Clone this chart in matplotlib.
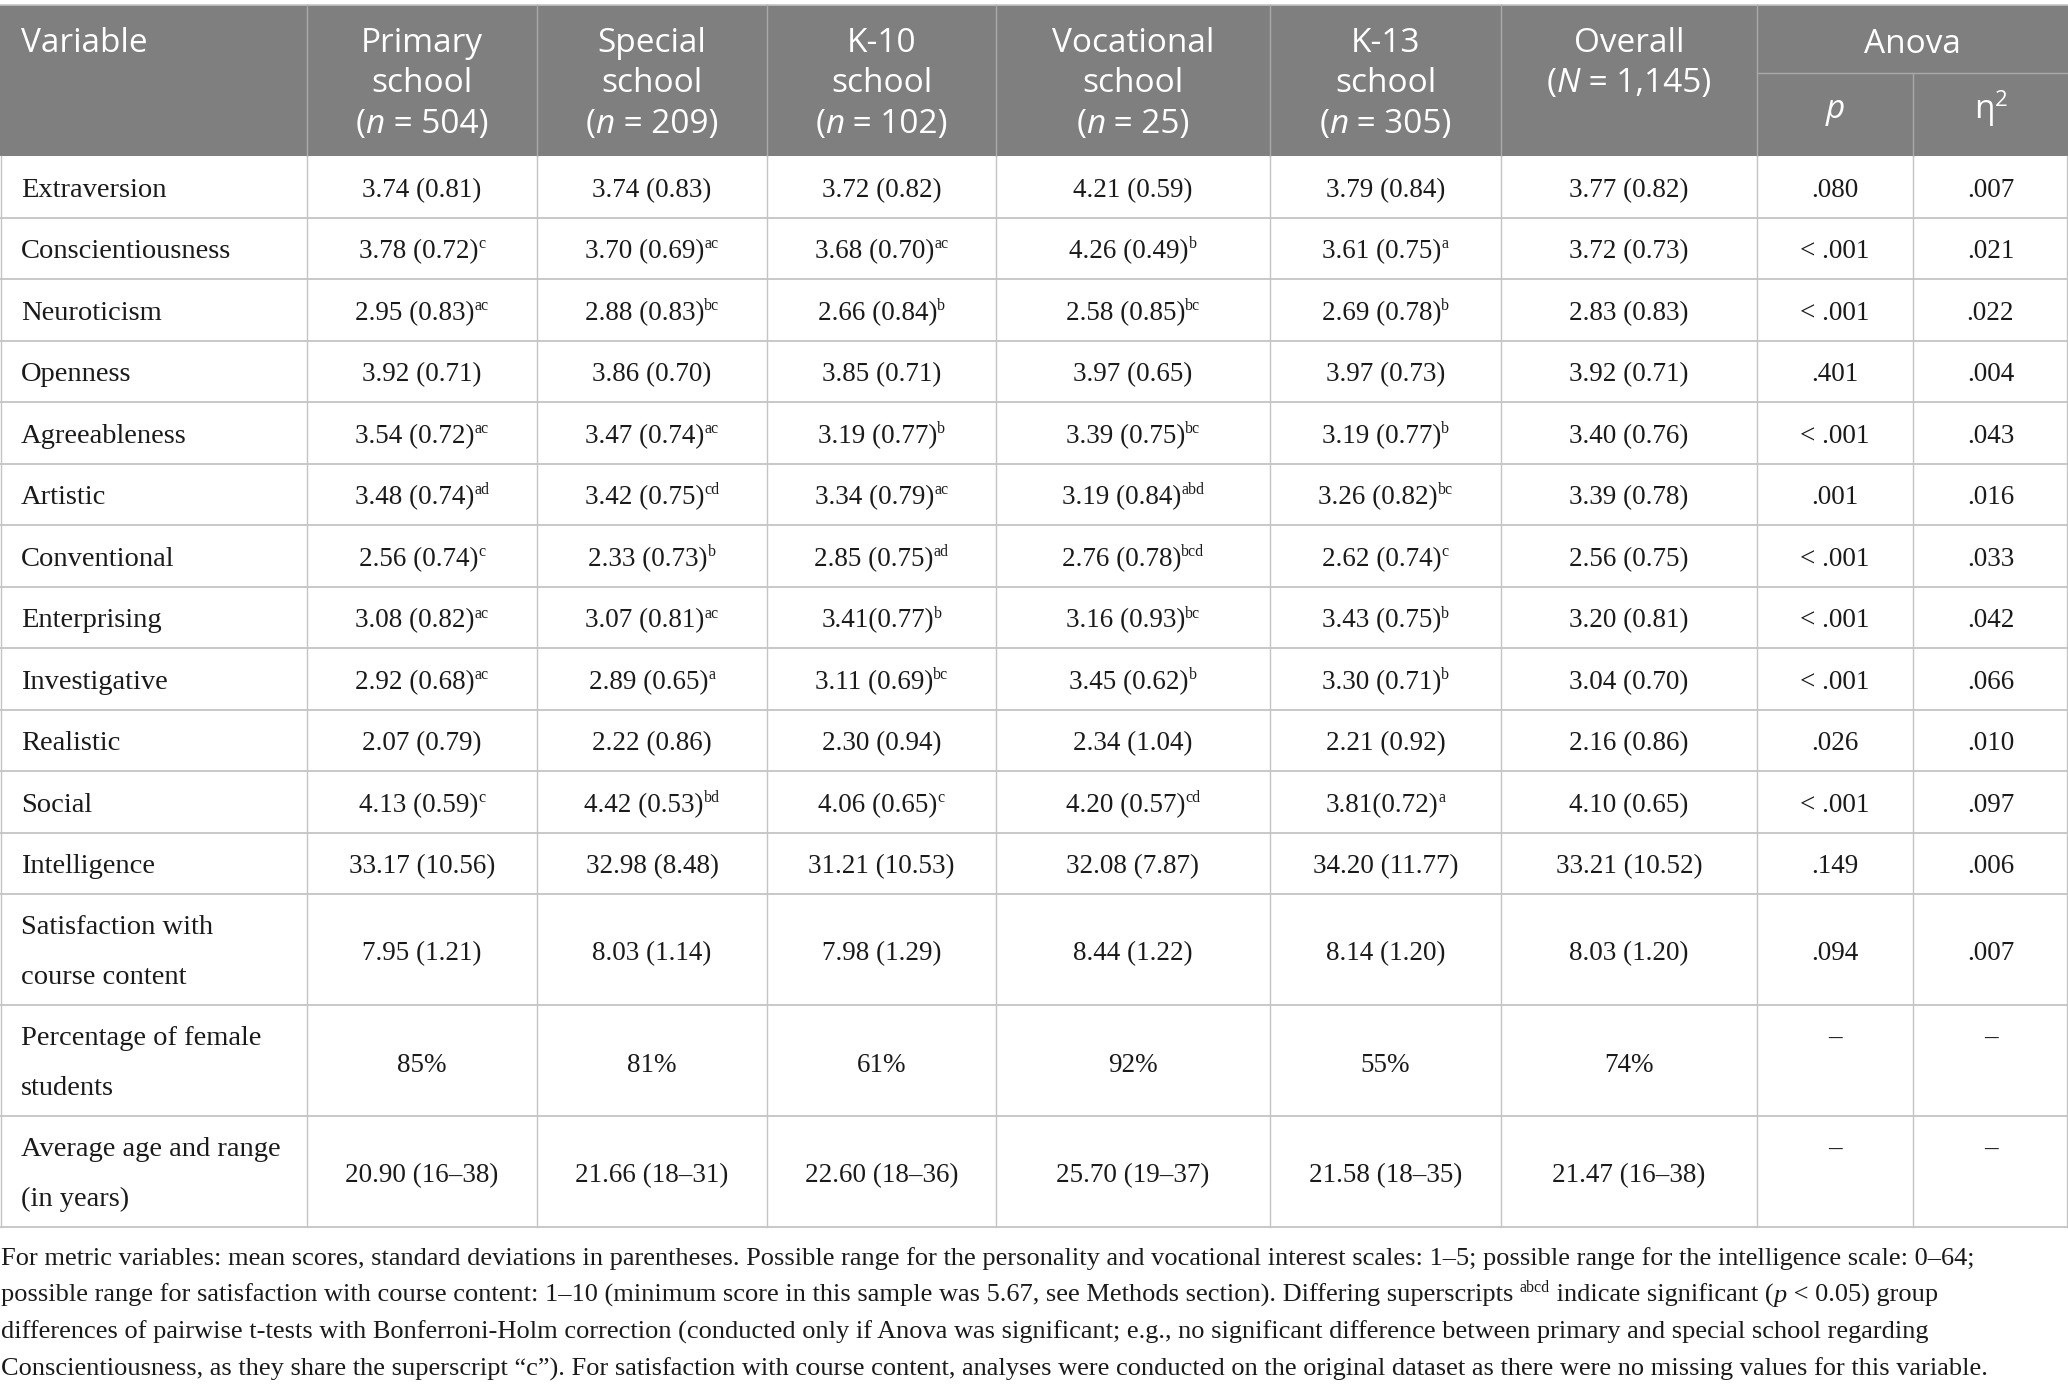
import matplotlib
matplotlib.use("Agg")
import matplotlib.pyplot as plt
from matplotlib.patches import Rectangle

# ---- table content -------------------------------------------------------
variables = ["Extraversion", "Conscientiousness", "Neuroticism", "Openness",
             "Agreeableness", "Artistic", "Conventional", "Enterprising",
             "Investigative", "Realistic", "Social", "Intelligence",
             "Satisfaction with\ncourse content", "Percentage of female\nstudents",
             "Average age and range\n(in years)"]

school_names = ["Primary\nschool", "Special\nschool", "K-10\nschool",
                "Vocational\nschool", "K-13\nschool"]
school_n = ["504", "209", "102", "25", "305"]
overall_n = "1,145"

primary = ["3.74 (0.81)", "3.78 (0.72)", "2.95 (0.83)", "3.92 (0.71)", "3.54 (0.72)",
           "3.48 (0.74)", "2.56 (0.74)", "3.08 (0.82)", "2.92 (0.68)", "2.07 (0.79)",
           "4.13 (0.59)", "33.17 (10.56)", "7.95 (1.21)", "85%", "20.90 (16–38)"]
primary_sup = ["", "c", "ac", "", "ac", "ad", "c", "ac", "ac", "", "c", "", "", "", ""]

special = ["3.74 (0.83)", "3.70 (0.69)", "2.88 (0.83)", "3.86 (0.70)", "3.47 (0.74)",
           "3.42 (0.75)", "2.33 (0.73)", "3.07 (0.81)", "2.89 (0.65)", "2.22 (0.86)",
           "4.42 (0.53)", "32.98 (8.48)", "8.03 (1.14)", "81%", "21.66 (18–31)"]
special_sup = ["", "ac", "bc", "", "ac", "cd", "b", "ac", "a", "", "bd", "", "", "", ""]

k10 = ["3.72 (0.82)", "3.68 (0.70)", "2.66 (0.84)", "3.85 (0.71)", "3.19 (0.77)",
       "3.34 (0.79)", "2.85 (0.75)", "3.41(0.77)", "3.11 (0.69)", "2.30 (0.94)",
       "4.06 (0.65)", "31.21 (10.53)", "7.98 (1.29)", "61%", "22.60 (18–36)"]
k10_sup = ["", "ac", "b", "", "b", "ac", "ad", "b", "bc", "", "c", "", "", "", ""]

vocational = ["4.21 (0.59)", "4.26 (0.49)", "2.58 (0.85)", "3.97 (0.65)", "3.39 (0.75)",
              "3.19 (0.84)", "2.76 (0.78)", "3.16 (0.93)", "3.45 (0.62)", "2.34 (1.04)",
              "4.20 (0.57)", "32.08 (7.87)", "8.44 (1.22)", "92%", "25.70 (19–37)"]
vocational_sup = ["", "b", "bc", "", "bc", "abd", "bcd", "bc", "b", "", "cd", "", "", "", ""]

k13 = ["3.79 (0.84)", "3.61 (0.75)", "2.69 (0.78)", "3.97 (0.73)", "3.19 (0.77)",
       "3.26 (0.82)", "2.62 (0.74)", "3.43 (0.75)", "3.30 (0.71)", "2.21 (0.92)",
       "3.81(0.72)", "34.20 (11.77)", "8.14 (1.20)", "55%", "21.58 (18–35)"]
k13_sup = ["", "a", "b", "", "b", "bc", "c", "b", "b", "", "a", "", "", "", ""]

overall = ["3.77 (0.82)", "3.72 (0.73)", "2.83 (0.83)", "3.92 (0.71)", "3.40 (0.76)",
           "3.39 (0.78)", "2.56 (0.75)", "3.20 (0.81)", "3.04 (0.70)", "2.16 (0.86)",
           "4.10 (0.65)", "33.21 (10.52)", "8.03 (1.20)", "74%", "21.47 (16–38)"]

anova_p = [".080", "< .001", "< .001", ".401", "< .001", ".001", "< .001", "< .001",
           "< .001", ".026", "< .001", ".149", ".094", "–", "–"]
anova_eta2 = [".007", ".021", ".022", ".004", ".043", ".016", ".033", ".042",
              ".066", ".010", ".097", ".006", ".007", "–", "–"]

footnote = [
    [("For metric variables: mean scores, standard deviations in parentheses. Possible range for the "
      "personality and vocational interest scales: 1–5; possible range for the intelligence scale: 0–64;", "n")],
    [("possible range for satisfaction with course content: 1–10 (minimum score in this sample was 5.67, "
      "see Methods section). Differing superscripts ", "n"), ("abcd", "sup"),
     (" indicate significant (", "n"), ("p", "i"), (" < 0.05) group", "n")],
    [("differences of pairwise t-tests with Bonferroni-Holm correction (conducted only if Anova was "
      "significant; e.g., no significant difference between primary and special school regarding", "n")],
    [("Conscientiousness, as they share the superscript “c”). For satisfaction with course content, "
      "analyses were conducted on the original dataset as there were no missing values for this variable.", "n")],
]

# ---- layout --------------------------------------------------------------
W, H = 2068, 1391
col_edges = [0, 307, 537, 767, 996, 1270, 1501, 1757, 1913, 2068]
header_top, header_bot, anova_split = 5, 156, 73
row_heights = [61.5] * 12 + [111] * 3

HEAD_BG = "#7f7f7f"
HEAD_LINE = "#a9a9a9"
GRID = "#c4c4c4"
TXT = "#1a1a1a"
SERIF = "Liberation Serif"
SANS = "Open Sans"
LABEL_PT, BODY_PT, SUP_PT, HEAD_PT, FOOT_PT = 20.5, 19.5, 11.5, 24, 19

fig = plt.figure(figsize=(W / 100, H / 100), dpi=100)
ax = fig.add_axes([0, 0, 1, 1])
ax.set_xlim(0, W)
ax.set_ylim(H, 0)
ax.axis("off")
renderer = fig.canvas.get_renderer()


def text_width(s, **props):
    # sentinel bars keep leading/trailing spaces in the measurement
    t1 = ax.text(0, 0, "|" + s + "|", **props)
    t2 = ax.text(0, 0, "||", **props)
    w = t1.get_window_extent(renderer).width - t2.get_window_extent(renderer).width
    t1.remove()
    t2.remove()
    return w


def draw_runs(x, y, parts, ha="center", family=SERIF, size=BODY_PT, color=TXT, sup_size=SUP_PT):
    """Draw a line made of normal/italic/superscript pieces on a common baseline."""
    props = []
    for s, kind in parts:
        p = dict(family=family, color=color, va="baseline", ha="left")
        p["fontsize"] = sup_size if kind == "sup" else size
        if kind == "i":
            p["style"] = "italic"
        props.append(p)
    widths = [text_width(s, **p) for (s, _), p in zip(parts, props)]
    total = sum(widths)
    x0 = x - total / 2 if ha == "center" else x
    raise_px = size * 100 / 72 * 0.36
    for (s, kind), p, w in zip(parts, props, widths):
        yy = y - raise_px if kind == "sup" else y
        ax.text(x0, yy, s, **p)
        x0 += w


# header background and lines
ax.add_patch(Rectangle((0, header_top), W, header_bot - header_top, facecolor=HEAD_BG,
                       edgecolor="none", zorder=0))
ax.plot([0, W], [header_top, header_top], color=GRID, lw=1.2)
for xe in col_edges[1:-2]:
    ax.plot([xe, xe], [header_top, header_bot], color=HEAD_LINE, lw=1.0)
ax.plot([col_edges[7], W], [anova_split, anova_split], color=HEAD_LINE, lw=1.0)
ax.plot([col_edges[8], col_edges[8]], [anova_split, header_bot], color=HEAD_LINE, lw=1.0)

centers = [(a + b) / 2 for a, b in zip(col_edges[:-1], col_edges[1:])]
head = dict(family=SANS, fontsize=HEAD_PT, color="white", va="baseline", ha="center")
ax.text(21, 52, "Variable", **{**head, "ha": "left"})
for i, (name, n) in enumerate(zip(school_names, school_n)):
    l1, l2 = name.split("\n")
    ax.text(centers[i + 1], 52, l1, **head)
    ax.text(centers[i + 1], 92, l2, **head)
    draw_runs(centers[i + 1], 133, [("(", "n"), ("n", "i"), (" = " + n + ")", "n")],
              family=SANS, size=HEAD_PT, color="white")
ax.text(centers[6], 52, "Overall", **head)
draw_runs(centers[6], 92, [("(", "n"), ("N", "i"), (" = " + overall_n + ")", "n")],
          family=SANS, size=HEAD_PT, color="white")
ax.text((col_edges[7] + W) / 2, 53, "Anova", **head)
draw_runs(centers[7], 118, [("p", "i")], family=SANS, size=HEAD_PT, color="white")
draw_runs(centers[8], 118, [("η", "n"), ("2", "sup")], family=SANS, size=HEAD_PT,
          color="white", sup_size=16)

# body
value_cols = [(primary, primary_sup), (special, special_sup), (k10, k10_sup),
              (vocational, vocational_sup), (k13, k13_sup),
              (overall, None), (anova_p, None), (anova_eta2, None)]
label = dict(family=SERIF, fontsize=LABEL_PT, color=TXT, va="baseline", ha="left")

y = header_bot
for r, (var, h) in enumerate(zip(variables, row_heights)):
    mid = y + h / 2
    double = "\n" in var
    if double:
        l1, l2 = var.split("\n")
        ax.text(21, y + 40, l1, **label)
        ax.text(21, y + 90, l2, **label)
    else:
        ax.text(21, mid + 10, var, **label)
    for c, (vals, sups) in enumerate(value_cols):
        v = vals[r]
        base = mid + 11 if double else mid + 10
        if v == "–":
            base = y + 40
        sup = sups[r] if sups else ""
        parts = [(v, "n")] + ([(sup, "sup")] if sup else [])
        draw_runs(centers[c + 1], base, parts)
    y += h
    ax.plot([0, W], [y, y], color=GRID, lw=1.3)

# vertical grid lines in the body
for xe in col_edges:
    xx = min(max(xe, 1), W - 1)
    ax.plot([xx, xx], [header_bot, y], color=GRID, lw=1.0)

# footnote
fy = 1265
for line in footnote:
    draw_runs(1, fy, line, ha="left", size=FOOT_PT, sup_size=11.5)
    fy += 37

fig.savefig("out.png", dpi=100, facecolor="white")
